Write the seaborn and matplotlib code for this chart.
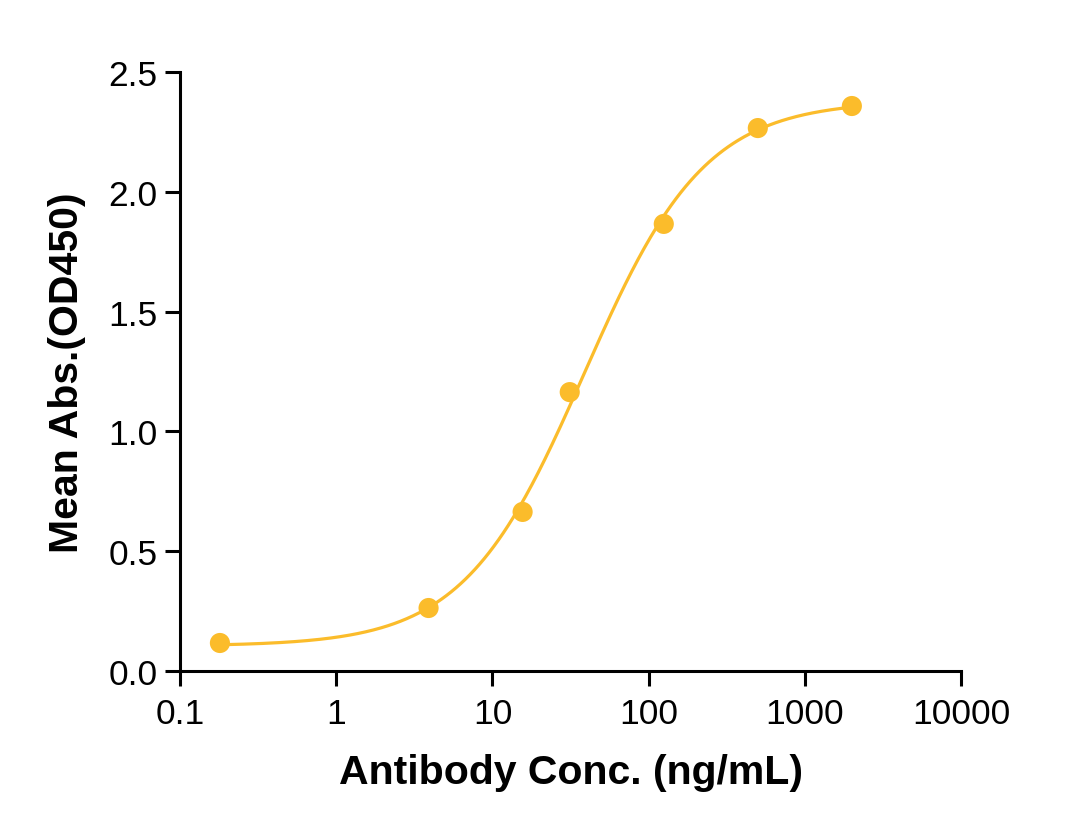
import numpy as np
import matplotlib
matplotlib.use("Agg")
import matplotlib.pyplot as plt
import seaborn as sns
import pandas as pd
from matplotlib.ticker import FixedLocator, NullLocator

# ================= DATA =================

conc = [0.18, 3.9, 15.6, 31.25, 125, 500, 2000]
absorb = [0.117, 0.263, 0.664, 1.164, 1.866, 2.266, 2.358]

x_ticks = [0.1, 1, 10, 100, 1000, 10000]
x_tick_labels = ["0.1", "1", "10", "100", "1000", "10000"]
y_ticks = [0.0, 0.5, 1.0, 1.5, 2.0, 2.5]

color = "#FBBC2B"

# ================= 4PL FIT (grid search, linear bottom/top) =================

xd = np.array(conc)
yd = np.array(absorb)
best = None
for ec50 in np.logspace(0.5, 2.5, 400):
    for hill in np.linspace(0.5, 2.5, 200):
        f = 1.0 / (1.0 + (ec50 / xd) ** hill)
        A = np.column_stack([1 - f, f])
        coef, res, _, _ = np.linalg.lstsq(A, yd, rcond=None)
        err = np.sum((A @ coef - yd) ** 2)
        if best is None or err < best[0]:
            best = (err, ec50, hill, coef[0], coef[1])

_, ec50, hill, bottom, top = best
x_fit = np.logspace(np.log10(min(conc)), np.log10(max(conc)), 400)
y_fit = bottom + (top - bottom) / (1.0 + (ec50 / x_fit) ** hill)

df = pd.DataFrame({"conc": conc, "abs": absorb})
fit_df = pd.DataFrame({"conc": x_fit, "abs": y_fit})

# ================= PLOT =================

sns.set_style("ticks")
plt.rcParams["font.family"] = ["Liberation Sans", "DejaVu Sans"]
plt.rcParams["text.color"] = "black"
plt.rcParams["axes.labelcolor"] = "black"
plt.rcParams["xtick.color"] = "black"
plt.rcParams["ytick.color"] = "black"
plt.rcParams["axes.edgecolor"] = "black"

fig = plt.figure(figsize=(10.82, 8.37), dpi=100)
ax = fig.add_axes([0.1664, 0.1971, 0.8882 - 0.1664, 0.9128 - 0.1971])

sns.lineplot(data=fit_df, x="conc", y="abs", color=color, linewidth=2.3, ax=ax)
sns.scatterplot(data=df, x="conc", y="abs", color=color, s=210,
                edgecolor="none", ax=ax, zorder=3)

ax.set_xscale("log")
ax.set_xlim(0.1, 10000)
ax.set_ylim(0, 2.5)
ax.xaxis.set_major_locator(FixedLocator(x_ticks))
ax.xaxis.set_minor_locator(NullLocator())
ax.set_xticklabels(x_tick_labels)
ax.set_yticks(y_ticks)
ax.set_yticklabels([f"{v:.1f}" for v in y_ticks])

for side in ["top", "right"]:
    ax.spines[side].set_visible(False)
for side in ["left", "bottom"]:
    ax.spines[side].set_linewidth(2.2)
    ax.spines[side].set_color("black")

ax.tick_params(axis="both", which="major", length=11, width=2.2,
               labelsize=25.5, color="black", labelcolor="black")
ax.tick_params(axis="x", pad=8)
ax.tick_params(axis="y", pad=5)

ax.set_xlabel("Antibody Conc. (ng/mL)", fontsize=29.5, fontweight="bold")
ax.set_ylabel("Mean Abs.(OD450)", fontsize=29.5, fontweight="bold")
ax.xaxis.set_label_coords(0.5, -0.137)
ax.yaxis.set_label_coords(-0.12, 0.5)

fig.savefig("out.png", dpi=100)
